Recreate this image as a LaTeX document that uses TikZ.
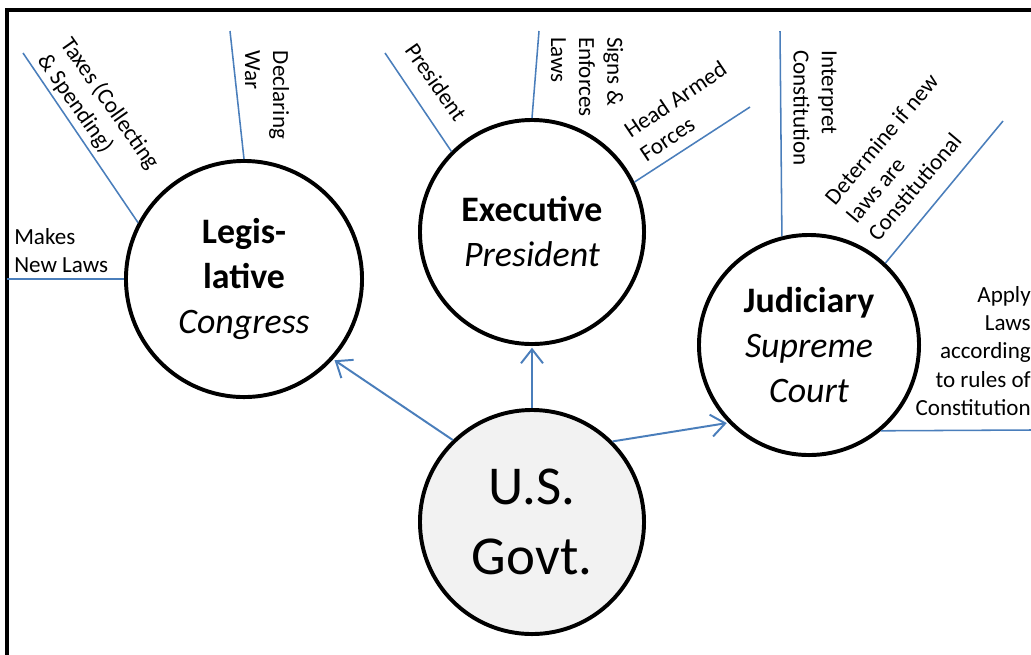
\documentclass[tikz,border=0pt]{standalone}
\usepackage{fontspec}
\setmainfont{Carlito}
\usetikzlibrary{arrows.meta}
\definecolor{linkblue}{RGB}{74,126,187}
\definecolor{govtgray}{RGB}{242,242,242}

\begin{document}
\begin{tikzpicture}[x=0.025cm,y=-0.025cm,
  branch/.style={draw=linkblue, line width=1.1pt},
  arrow/.style={draw=linkblue, line width=1.4pt, shorten >=1.2pt, -{Straight Barb[length=3.5mm,width=5.5mm]}},
  circ/.style={circle, draw, line width=2.8pt, align=center, inner sep=0pt, font=\fontsize{25.5}{32}\selectfont},
  lbl/.style={align=left, inner sep=0pt, font=\fontsize{16.4}{20}\selectfont}]
  \useasboundingbox (0,0) rectangle (1031,654);
  \draw[line width=2.8pt] (1035,10) -- (7,10) -- (7,660);

  \node[circ, minimum size=5.9cm] (leg) at (244,279) {\textbf{Legis-}\\\textbf{lative}\\\textit{Congress}};
  \node[circ, minimum size=5.6cm] (exe) at (532,232) {\textbf{Executive}\\\textit{President}};
  \node[circ, minimum size=5.5cm] (jud) at (809,345) {\textbf{Judiciary}\\\textit{Supreme}\\\textit{Court}};
  \node[circ, minimum size=5.6cm, fill=govtgray, font=\fontsize{39}{50}\selectfont] (govt) at (532,522) {U.S.\\Govt.};

  \coordinate (makes end) at (7,279);
  \coordinate (taxes end) at (23,53);
  \coordinate (war end) at (230,31);
  \coordinate (pres end) at (385,53);
  \coordinate (signs end) at (539,31);
  \coordinate (forces end) at (750,107);
  \coordinate (interp end) at (780,31);
  \coordinate (determ end) at (1003,121);
  \coordinate (apply end) at (1031,430);

  \draw[branch] (leg.180) -- (makes end);
  \draw[branch] (leg.152) -- (taxes end);
  \draw[branch] (leg.90) -- (war end);
  \draw[branch] (exe.135) -- (pres end);
  \draw[branch] (exe.90) -- (signs end);
  \draw[branch] (exe.26) -- (forces end);
  \draw[branch] (jud.104) -- (interp end);
  \draw[branch] (jud.47) -- (determ end);
  \draw[branch] (jud.-50) -- (apply end);

  \draw[arrow] (govt.134) -- (leg.318);
  \draw[arrow] (govt.90) -- (exe.270);
  \draw[arrow] (govt.45) -- (jud.224);

  \node[lbl, anchor=west] (makes) at (14,251) {Makes\\New Laws};
  \node[lbl, rotate=-55] (taxes) at (98,112) {Taxes (Collecting\\\& Spending)};
  \node[lbl, rotate=-90] (war) at (267,95) {Declaring\\War};
  \node[lbl, rotate=-55] (pres) at (436,82) {President};
  \node[lbl, rotate=-90] (signs) at (587,77) {Signs \&\\Enforces\\Laws};
  \node[lbl, rotate=34] (forces) at (683,111) {Head Armed\\Forces};
  \node[lbl, rotate=-90] (interp) at (815,108) {Interpret\\Constitution};
  \node[lbl, rotate=50] (determ) at (903,157) {Determine if new\\laws are\\Constitutional};
  \node[lbl, align=right, anchor=east] (apply) at (1031,351) {Apply\\Laws\\according\\to rules of\\Constitution};
\end{tikzpicture}
\end{document}
